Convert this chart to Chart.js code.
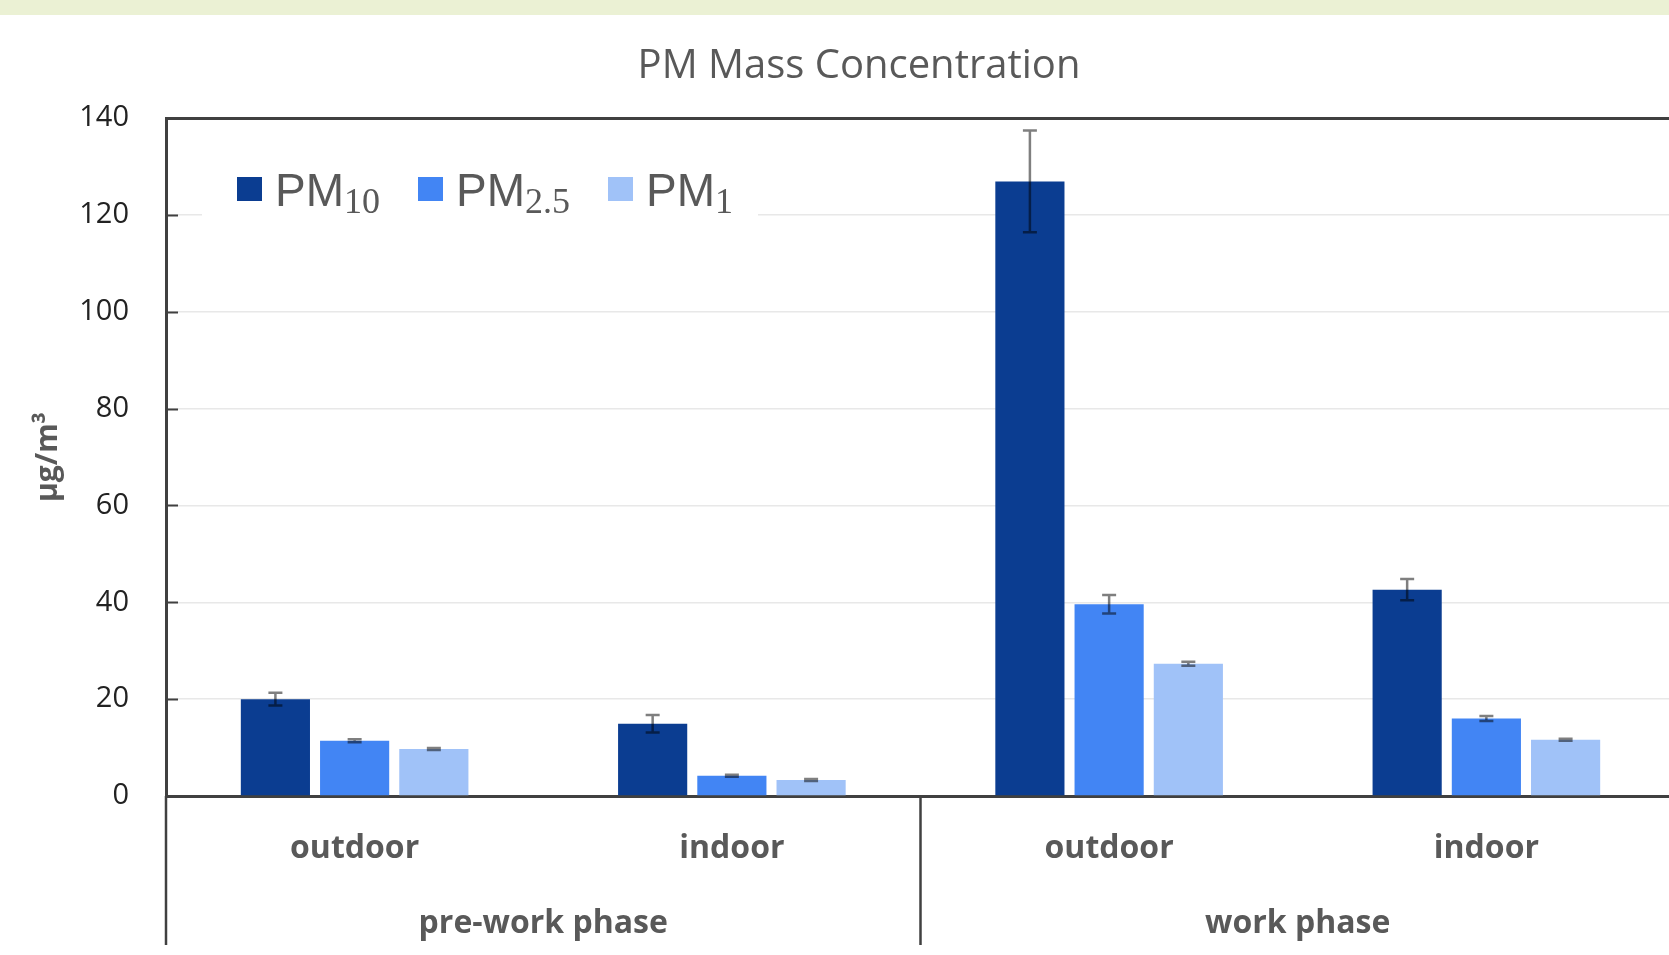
<!DOCTYPE html>
<html>
<head>
<meta charset="utf-8">
<script src="https://cdn.jsdelivr.net/npm/chart.js@4.4.1/dist/chart.umd.min.js"></script>
<style>
  html, body { margin: 0; padding: 0; }
  body { width: 1669px; height: 955px; overflow: hidden;
         background: linear-gradient(#ebf1d4 0, #ebf1d4 15px, #ffffff 15px); }
  /* plot runs slightly past the right edge of the window, as in the original */
  #wrap { position: relative; width: 1675px; height: 955px; }
</style>
</head>
<body>
<div id="wrap"><canvas id="pmChart"></canvas></div>
<script>
// values (µg/m³), error = half the whisker length
const categories = ['outdoor', 'indoor', 'outdoor', 'indoor'];
const phases = ['pre-work phase', 'work phase'];
const pm10 = [20.0, 14.9, 126.9, 42.6];
const pm10Err = [1.3, 1.8, 10.5, 2.2];
const pm25 = [11.4, 4.2, 39.6, 16.0];
const pm25Err = [0.3, 0.2, 1.9, 0.5];
const pm1 = [9.7, 3.3, 27.3, 11.6];
const pm1Err = [0.2, 0.2, 0.4, 0.2];
const yTicks = [0, 20, 40, 60, 80, 100, 120, 140];

Chart.defaults.font.family = "'Open Sans', sans-serif";

const AXIS = '#404040';
const TEXT = '#595959';

// whiskers, drawn from each bar's own position and the y scale
const errorBars = {
  id: 'errorBars',
  afterDatasetsDraw(chart) {
    const ctx = chart.ctx;
    const y = chart.scales.y;
    ctx.save();
    ctx.strokeStyle = 'rgba(0,0,0,0.5)';
    ctx.lineWidth = 2.5;
    chart.data.datasets.forEach((ds, i) => {
      chart.getDatasetMeta(i).data.forEach((bar, j) => {
        const hi = y.getPixelForValue(ds.data[j] + ds.errors[j]);
        const lo = y.getPixelForValue(ds.data[j] - ds.errors[j]);
        ctx.beginPath();
        ctx.moveTo(bar.x, hi); ctx.lineTo(bar.x, lo);
        ctx.moveTo(bar.x - 7, hi); ctx.lineTo(bar.x + 7, hi);
        ctx.moveTo(bar.x - 7, lo); ctx.lineTo(bar.x + 7, lo);
        ctx.stroke();
      });
    });
    ctx.restore();
  }
};

// title, legend with subscripts, category separators
const frame = {
  id: 'frame',
  beforeDatasetsDraw(chart) {
    const ctx = chart.ctx;
    const area = chart.chartArea;
    ctx.save();
    let x = area.left + 71;
    const top = area.top + 59;
    const items = [];
    chart.data.datasets.forEach(ds => {
      const main = ds.label.slice(0, 2), sub = ds.label.slice(2);
      ctx.font = "46px 'Liberation Sans'";
      const wMain = ctx.measureText(main).width;
      ctx.font = "36px 'Liberation Serif'";
      const wSub = ctx.measureText(sub).width;
      items.push({ x, ds, main, sub, wMain });
      x += 25 + 13 + wMain + wSub + 38;
    });
    ctx.fillStyle = '#ffffff';
    ctx.fillRect(area.left + 36, top - 20, x - 38 + 25 - area.left - 36, 64);
    items.forEach(it => {
      ctx.fillStyle = it.ds.backgroundColor;
      ctx.fillRect(it.x, top, 25, 24);
      ctx.fillStyle = TEXT;
      ctx.textBaseline = 'alphabetic';
      ctx.textAlign = 'left';
      ctx.font = "46px 'Liberation Sans'";
      ctx.fillText(it.main, it.x + 38, top + 29);
      ctx.font = "36px 'Liberation Serif'";
      ctx.fillText(it.sub, it.x + 38 + it.wMain, top + 36);
    });
    ctx.restore();
  },
  afterDraw(chart) {
    const ctx = chart.ctx;
    const area = chart.chartArea;
    const xs = chart.scales.x;
    const y = chart.scales.y;
    ctx.save();
    // title
    ctx.fillStyle = TEXT;
    ctx.font = "40px 'Open Sans'";
    ctx.textAlign = 'center';
    ctx.textBaseline = 'middle';
    ctx.fillText('PM Mass Concentration', 859, 67);
    // short inner ticks on the value axis
    ctx.strokeStyle = AXIS;
    ctx.lineWidth = 2;
    y.ticks.forEach(t => {
      const py = Math.round(y.getPixelForValue(t.value)) + 0.5;
      ctx.beginPath();
      ctx.moveTo(area.left, py); ctx.lineTo(area.left + 12, py);
      ctx.stroke();
    });
    // group separators below the axis
    ctx.lineWidth = 2.5;
    const mid = (xs.getPixelForValue(1) + xs.getPixelForValue(2)) / 2;
    [area.left, mid].forEach(px => {
      ctx.beginPath();
      ctx.moveTo(px, area.bottom); ctx.lineTo(px, 945);
      ctx.stroke();
    });
    ctx.restore();
  }
};

const data = {
  labels: categories,
  datasets: [
    { label: 'PM10', data: pm10, errors: pm10Err, backgroundColor: '#0b3d91' },
    { label: 'PM2.5', data: pm25, errors: pm25Err, backgroundColor: '#4285f4' },
    { label: 'PM1', data: pm1, errors: pm1Err, backgroundColor: '#a0c2f8' }
  ]
};

const config = {
  type: 'bar',
  data: data,
  options: {
    responsive: true,
    maintainAspectRatio: false,
    animation: false,
    layout: { padding: { top: 118, left: 0, right: 0, bottom: 0 } },
    datasets: { bar: { categoryPercentage: 0.63, barPercentage: 0.873 } },
    plugins: {
      legend: { display: false },
      title: { display: false },
      tooltip: { enabled: false }
    },
    scales: {
      x: {
        grid: { display: false, drawTicks: false },
        border: { color: AXIS, width: 3 },
        ticks: { color: TEXT, padding: 34, font: { size: 32, weight: '700' } },
        afterFit(s) { s.height = 85; }
      },
      x2: {
        type: 'category',
        labels: phases,
        position: 'bottom',
        grid: { display: false, drawTicks: false },
        border: { display: false },
        ticks: { color: TEXT, padding: 24, font: { size: 32, weight: '700' } },
        afterFit(s) { s.height = 74; }
      },
      y: {
        min: yTicks[0],
        max: yTicks[yTicks.length - 1],
        afterBuildTicks(s) { s.ticks = yTicks.map(v => ({ value: v })); },
        ticks: { color: '#222222', padding: 37, font: { size: 29 } },
        grid: {
          drawTicks: false,
          color: c => (c.tick && c.tick.value === yTicks[yTicks.length - 1]) ? AXIS : '#e8e8e8',
          lineWidth: c => (c.tick && c.tick.value === yTicks[yTicks.length - 1]) ? 3 : 1.5
        },
        border: { color: AXIS, width: 3 },
        title: {
          display: true,
          text: 'µg/m³',
          color: TEXT,
          font: { size: 30, weight: 'bold' },
          padding: { top: 30, bottom: 0 }
        },
        afterFit(s) { s.width = 166; }
      }
    }
  },
  plugins: [errorBars, frame]
};

const pmChart = new Chart(document.getElementById('pmChart'), config);
</script>
</body>
</html>
